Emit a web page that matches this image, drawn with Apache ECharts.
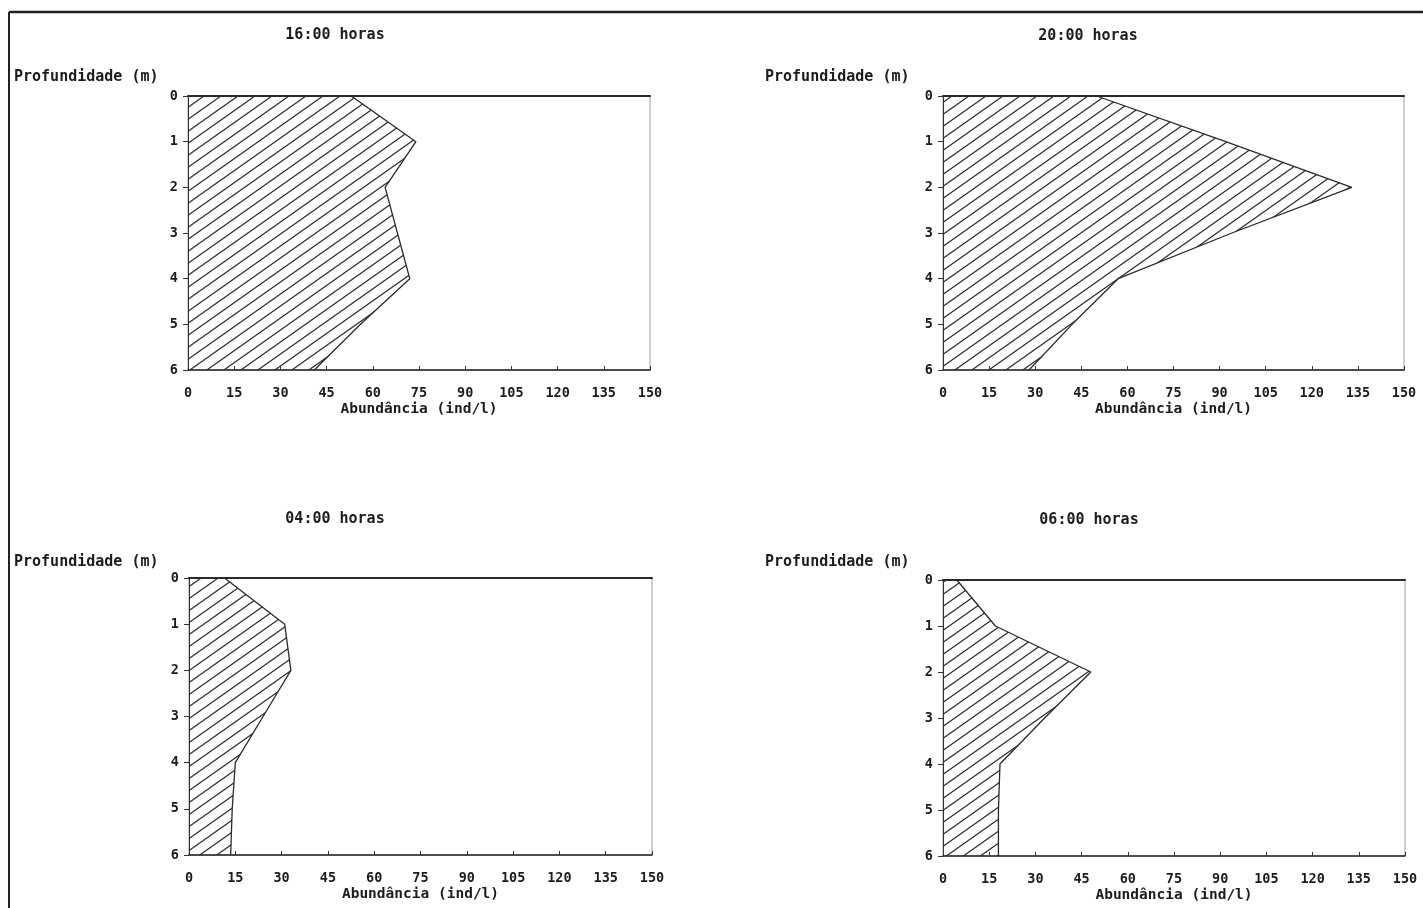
<!DOCTYPE html>
<html>
<head>
<meta charset="utf-8">
<title>Abundância por profundidade</title>
<script src="https://cdn.jsdelivr.net/npm/echarts@6/dist/echarts.min.js"></script>
<style>
  html, body { margin: 0; padding: 0; background: #ffffff; }
  #chart { width: 1423px; height: 908px; }
</style>
</head>
<body>
<div id="chart"></div>
<script>
// Depth levels (m) and abundance (ind/l) at each sampling time
const depths = ['0', '1', '2', '3', '4', '5', '6'];
const xTicks = [0, 15, 30, 45, 60, 75, 90, 105, 120, 135, 150];
const panelTitles = ['16:00 horas', '20:00 horas', '04:00 horas', '06:00 horas'];
const abund1600 = [53, 74, 64, 68, 72, 56, 41];
const abund2000 = [50, 92, 133, 94, 57, 42, 28];
const abund0400 = [11.5, 31, 33, 24, 15, 14, 13.5];
const abund0600 = [4.5, 17, 48, 33, 18.5, 18, 18];
const yName = 'Profundidade (m)';
const xName = 'Abundância (ind/l)';

const seriesValues = [abund1600, abund2000, abund0400, abund0600];

// Diagonal hatch tile used to fill each profile
function hatchTile() {
  const w = 17, h = 12;
  const c = document.createElement('canvas');
  c.width = w; c.height = h;
  const g = c.getContext('2d');
  g.strokeStyle = '#2e2e2e';
  g.lineWidth = 1.25;
  for (let k = -1; k <= 1; k++) {
    g.beginPath();
    g.moveTo(-w, 2 * h + k * h);
    g.lineTo(2 * w, -h + k * h);
    g.stroke();
  }
  return c;
}
const tile = hatchTile();

const FONT = '"DejaVu Sans Mono", "Liberation Mono", monospace';
const INK = '#1c1c1c';

// Plot rectangles for the four panels
const boxes = [
  { left: 188, top: 96, width: 462, height: 274 },
  { left: 943, top: 96, width: 461, height: 274 },
  { left: 189, top: 578, width: 463, height: 277 },
  { left: 943, top: 580, width: 462, height: 276 }
];
const titlePos = [[335, 35], [1088, 36], [335, 519], [1089, 520]];
const yNamePos = [[14, 77], [765, 77], [14, 562], [765, 562]];

const grid = [], xAxis = [], yAxis = [], series = [], graphic = [];

boxes.forEach((b, i) => {
  grid.push({
    left: b.left, top: b.top, width: b.width, height: b.height,
    show: true, borderColor: '#a0a0a0', borderWidth: 1, backgroundColor: 'transparent'
  });
  // bottom value axis
  xAxis.push({
    type: 'value', gridIndex: i, position: 'bottom',
    min: xTicks[0], max: xTicks[xTicks.length - 1], interval: xTicks[1] - xTicks[0],
    name: xName, nameLocation: 'middle', nameGap: 32,
    nameTextStyle: { fontFamily: FONT, fontWeight: 'bold', fontSize: 14.5, color: INK },
    axisLine: { show: true, lineStyle: { color: '#222', width: 1.6 } },
    axisTick: { show: true, inside: true, length: 4, lineStyle: { color: '#333', width: 1 } },
    axisLabel: { margin: 16, fontFamily: FONT, fontWeight: 'bold', fontSize: 13.5, color: INK },
    splitLine: { show: false }
  });
  // top frame line of the panel
  xAxis.push({
    type: 'value', gridIndex: i, position: 'top',
    min: xTicks[0], max: xTicks[xTicks.length - 1],
    axisLine: { show: true, lineStyle: { color: '#2a2a2a', width: 2.2 } },
    axisTick: { show: false }, axisLabel: { show: false }, splitLine: { show: false }
  });
  yAxis.push({
    type: 'category', gridIndex: i, data: depths, inverse: true, boundaryGap: false,
    axisLine: { show: true, lineStyle: { color: '#333', width: 1 } },
    axisTick: { show: true, length: 5, alignWithLabel: true, lineStyle: { color: '#333', width: 1 } },
    axisLabel: { margin: 10, fontFamily: FONT, fontWeight: 'bold', fontSize: 13.5, color: INK },
    splitLine: { show: false }
  });
  series.push({
    type: 'line', xAxisIndex: i * 2, yAxisIndex: i,
    data: seriesValues[i], showSymbol: false, symbol: 'none',
    lineStyle: { color: '#2a2a2a', width: 1.3 },
    areaStyle: { color: { image: tile, repeat: 'repeat' }, opacity: 1 },
    silent: true, animation: false
  });
  graphic.push({
    type: 'text', x: titlePos[i][0], y: titlePos[i][1],
    style: { text: panelTitles[i], align: 'center', verticalAlign: 'middle',
             font: 'bold 15px ' + FONT, fill: INK }
  });
  graphic.push({
    type: 'text', x: yNamePos[i][0], y: yNamePos[i][1],
    style: { text: yName, align: 'left', verticalAlign: 'middle',
             font: 'bold 15px ' + FONT, fill: INK }
  });
});

// outer frame (top and left edges)
graphic.push({ type: 'line', shape: { x1: 9, y1: 12, x2: 1423, y2: 12 },
               style: { stroke: '#222', lineWidth: 2.5 } });
graphic.push({ type: 'line', shape: { x1: 9, y1: 12, x2: 9, y2: 908 },
               style: { stroke: '#222', lineWidth: 2 } });

const chart = echarts.init(document.getElementById('chart'), null, { renderer: 'canvas' });
chart.setOption({
  backgroundColor: '#ffffff',
  animation: false,
  grid, xAxis, yAxis, series, graphic
});
</script>
</body>
</html>
